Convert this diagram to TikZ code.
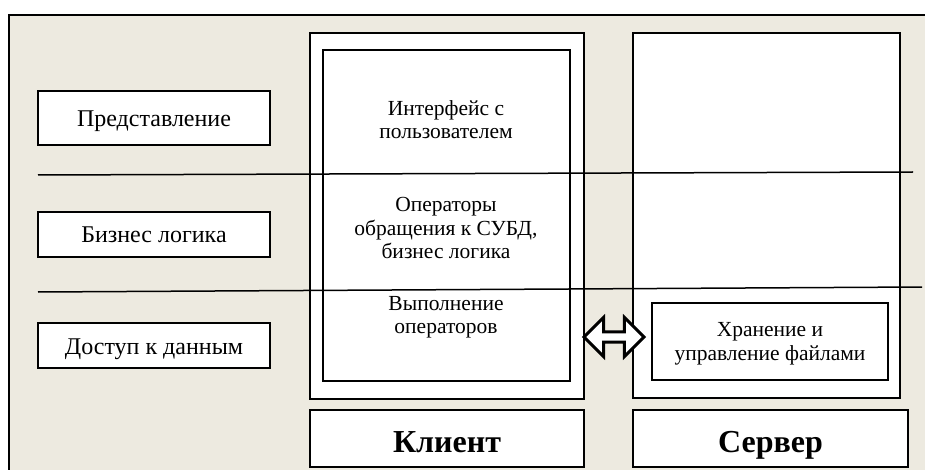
\documentclass[tikz,border=0pt]{standalone}
\usepackage{fontspec}
\setmainfont{Liberation Serif}
\usetikzlibrary{shapes.arrows}
\definecolor{paper}{RGB}{237,234,224}

\begin{document}
\begin{tikzpicture}[x=1pt, y=-1pt,
		layerbox/.style={draw, fill=white, line width=1.8pt, minimum width=232pt, inner sep=0pt, text height=17pt, text depth=0pt, font=\fontsize{24}{26}\selectfont},
		panel/.style={draw, fill=white, line width=1.8pt, inner sep=0pt},
		sidebox/.style={draw, fill=white, line width=1.2pt, inner sep=0pt, text height=27pt, text depth=0pt, font=\fontsize{32}{38}\selectfont\bfseries},
		txt/.style={align=center, inner sep=0pt, font=\fontsize{21.5}{23.5}\selectfont},
		tier/.style={line width=1.5pt},
		link/.style={double arrow, draw, fill=white, line width=3pt, minimum height=60pt, inner xsep=0pt, inner ysep=3.6pt, double arrow head extend=14.5pt, double arrow tip angle=90}]
		\useasboundingbox (0,0) rectangle (925,470);
		\clip (0,0) rectangle (925,470);
		\draw [fill=paper, line width=2.5pt] (9,15) rectangle (940,490);

		% layers
		\node [layerbox, minimum height=54pt] (pres) at (154,118) {Представление};
		\node [layerbox, minimum height=45pt] (logic) at (154,234.5) {Бизнес логика};
		\node [layerbox, minimum height=45pt] (data) at (154,345.5) {Доступ к данным};

		% client and server
		\node [panel, minimum width=274pt, minimum height=366pt] (client) at (447,216) {};
		\node [panel, minimum width=247pt, minimum height=331pt] (clientin) at (446.5,215.5) {};
		\node [panel, minimum width=267pt, minimum height=365pt] (server) at (766.5,215.5) {};
		\node [panel, minimum width=236pt, minimum height=77pt] (store) at (770,341.5) {};
		\node [sidebox, minimum width=274pt, minimum height=57pt] (clientname) at (447,438.5) {Клиент};
		\node [sidebox, minimum width=275pt, minimum height=57pt] (servername) at (770.5,438.5) {Сервер};

		\draw [tier] (38,175) -- (913,172);
		\draw [tier] (38,292) -- (922,287);

		\node [txt] (ui) at (446,119.5) {Интерфейс с\\пользователем};
		\node [txt] (ops) at (446,228) {Операторы\\обращения к СУБД,\\бизнес логика};
		\node [txt] (exec) at (446,317) {Выполнение\\операторов};
		\node [txt] (files) at (770,344) {Хранение и\\управление файлами};

		\node [link] (arr) at (614,337) {};
	\end{tikzpicture}
\end{document}
